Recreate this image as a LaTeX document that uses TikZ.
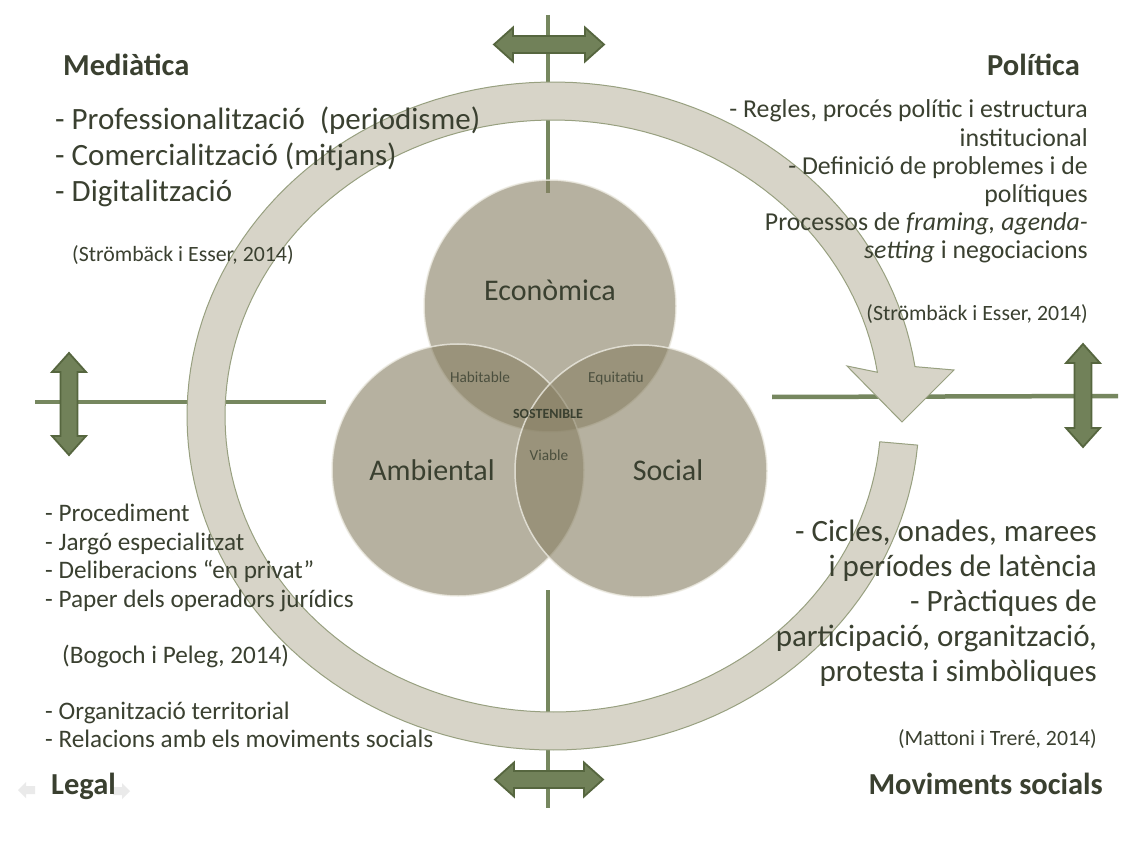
\documentclass[tikz,border=0pt]{standalone}
\usepackage{fontspec}
\setmainfont{Carlito}
\definecolor{ringfill}{HTML}{D7D4C8}
\definecolor{ringedge}{HTML}{98A080}
\definecolor{axisgreen}{HTML}{76875F}
\definecolor{arrgreen}{HTML}{718159}
\definecolor{arrdark}{HTML}{56663F}
\definecolor{venncol}{HTML}{898165}
\definecolor{vennrim}{HTML}{EDEBE2}
\definecolor{txt}{HTML}{3A4030}
\definecolor{txtsoft}{HTML}{4B4F3E}
\definecolor{navgray}{HTML}{EAEAEA}
\tikzset{
  axisline/.style={line width=4.5pt, draw=axisgreen},
  blockarr/.style={fill=arrgreen, draw=arrdark, line width=1.8pt, line join=miter},
  ringstyle/.style={fill=ringfill, draw=ringedge, line width=1pt},
  venn/.style={circle, inner sep=0pt, minimum size=252pt, fill=venncol, fill opacity=0.61, draw=vennrim, draw opacity=0.8, line width=1.5pt},
  lbl/.style={inner sep=0pt, text=txt},
  titletxt/.style={lbl, font=\fontsize{30.5}{36}\selectfont\bfseries},
  bigtxt/.style={lbl, font=\fontsize{31}{36}\selectfont},
  midtxt/.style={lbl, font=\fontsize{25.8}{29}\selectfont},
  legtxt/.style={lbl, font=\fontsize{25.2}{29}\selectfont},
  citetxt/.style={lbl, font=\fontsize{21.8}{26}\selectfont},
  venntxt/.style={lbl, font=\fontsize{30}{36}\selectfont},
  vennsmall/.style={inner sep=0pt, text=txtsoft, font=\fontsize{15.3}{18}\selectfont},
  sosttxt/.style={lbl, font=\fontsize{14}{17}\selectfont\bfseries},
  pics/dblarrow/.style={code={
    \path[blockarr] (-#1,0) -- (-#1+19,-17) -- (-#1+19,-8.5) -- (#1-19,-8.5) -- (#1-19,-17)
      -- (#1,0) -- (#1-19,17) -- (#1-19,8.5) -- (-#1+19,8.5) -- (-#1+19,17) -- cycle;
  }}
}
\begin{document}
\begin{tikzpicture}[x=1pt,y=-1pt]
\useasboundingbox[fill=white] (0,0) rectangle (1148,866);

% axis lines
\coordinate (vt1) at (548,15);   \coordinate (vt2) at (548,193);
\coordinate (vb1) at (548,590);  \coordinate (vb2) at (548,808);
\coordinate (hl1) at (35,402);   \coordinate (hl2) at (326,402);
\coordinate (hr1) at (772,397);  \coordinate (hr2) at (1118,396);
\draw[axisline] (vt1) -- (vt2);
\draw[axisline] (vb1) -- (vb2);
\draw[axisline] (hl1) -- (hl2);
\draw[axisline] (hr1) -- (hr2);

% circular arrow
\filldraw[ringstyle] plot[domain=-5:-351.5, samples=160] ({553+366*cos(\x)},{416-334*sin(\x)})
  -- (954,370) -- (902,422) -- (847,366)
  -- plot[domain=-351.5:-5, samples=160] ({553+328*cos(\x)},{416-296*sin(\x)}) -- cycle;

% Venn circles
\node[venn] (eco) at (550,306) {};
\node[venn] (amb) at (458,470) {};
\node[venn] (soc) at (641,471) {};

\node[venntxt, anchor=base] (ecot) at (550,301) {Econòmica};
\node[venntxt, anchor=base] (ambt) at (432,480) {Ambiental};
\node[venntxt, anchor=base] (soct) at (668,480) {Social};
\node[vennsmall, anchor=base] (hab) at (480,382) {Habitable};
\node[vennsmall, anchor=base] (equ) at (616,382) {Equitatiu};
\node[sosttxt, anchor=base] (sos) at (548,418) {SOSTENIBLE};
\node[vennsmall, anchor=base] (via) at (549,460) {Viable};

% double block arrows
\pic at (549,44.5) {dblarrow=55};
\pic[rotate=90] at (69,404) {dblarrow=51};
\pic[rotate=90] at (1083,395.5) {dblarrow=51.5};
\pic at (549,779.5) {dblarrow=54};

% faint navigation arrows
\fill[navgray] (18,790) -- (26,782) -- (26,786) -- (35,786) -- (35,794) -- (26,794) -- (26,798) -- cycle;
\fill[navgray] (130,791) -- (122,783) -- (122,787) -- (113,787) -- (113,795) -- (122,795) -- (122,799) -- cycle;

% Mediàtica
\node[titletxt, anchor=base west] (medt) at (63,76) {Mediàtica};
\node[bigtxt, anchor=base west] (med1) at (55,130) {- Professionalització\hspace{0.25em} (periodisme)};
\node[bigtxt, anchor=base west] (med2) at (55,166) {- Comercialització (mitjans)};
\node[bigtxt, anchor=base west] (med3) at (55,202) {- Digitalització};
\node[citetxt, anchor=base west] (medc) at (72,262) {(Strömbäck i Esser, 2014)};

% Política
\node[titletxt, anchor=base east] (polt) at (1080,76) {Política};
\node[midtxt, anchor=base east] (pol1) at (1088,118) {- Regles, procés polític i estructura};
\node[midtxt, anchor=base east] (pol2) at (1088,146.5) {institucional};
\node[midtxt, anchor=base east] (pol3) at (1088,175) {- Definició de problemes i de};
\node[midtxt, anchor=base east] (pol4) at (1088,203) {polítiques};
\node[midtxt, anchor=base east] (pol5) at (1088,231) {Processos de \textit{framing, agenda-}};
\node[midtxt, anchor=base east] (pol6) at (1088,258.5) {\textit{setting} i negociacions};
\node[citetxt, anchor=base east] (polc) at (1088,321) {(Strömbäck i Esser, 2014)};

% Legal
\node[legtxt, anchor=base west] (leg1) at (45,521.5) {- Procediment};
\node[legtxt, anchor=base west] (leg2) at (45,550) {- Jargó especialitzat};
\node[legtxt, anchor=base west] (leg3) at (45,578.5) {- Deliberacions “en privat”};
\node[legtxt, anchor=base west] (leg4) at (45,607) {- Paper dels operadors jurídics};
\node[legtxt, anchor=base west] (legc) at (62,663.5) {(Bogoch i Peleg, 2014)};
\node[legtxt, anchor=base west] (leg5) at (45,719) {- Organització territorial};
\node[legtxt, anchor=base west] (leg6) at (45,747.5) {- Relacions amb els moviments socials};
\node[titletxt, anchor=base west] (legt) at (51,794) {Legal};

% Moviments socials
\node[bigtxt, anchor=base east] (mov1) at (1097,541.5) {- Cicles, onades, marees};
\node[bigtxt, anchor=base east] (mov2) at (1097,576.5) {i períodes de latència};
\node[bigtxt, anchor=base east] (mov3) at (1097,611.5) {- Pràctiques de};
\node[bigtxt, anchor=base east] (mov4) at (1097,646.5) {participació, organització,};
\node[bigtxt, anchor=base east] (mov5) at (1097,681.5) {protesta i simbòliques};
\node[citetxt, anchor=base east] (movc) at (1097,745) {(Mattoni i Treré, 2014)};
\node[titletxt, anchor=base east] (movt) at (1103,794) {Moviments socials};
\end{tikzpicture}
\end{document}
